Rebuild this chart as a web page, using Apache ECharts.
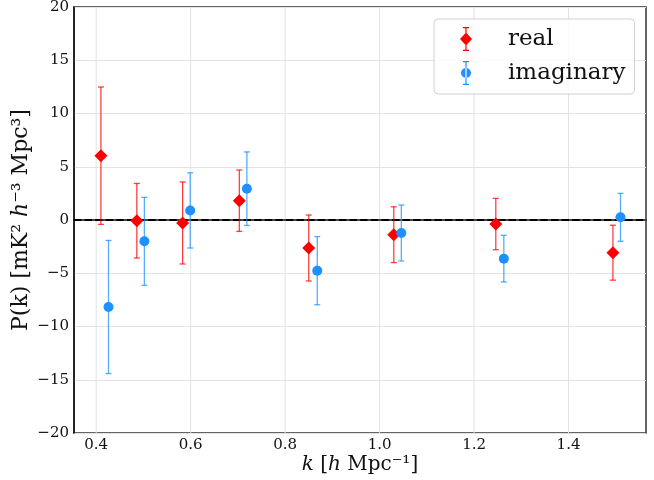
<!DOCTYPE html>
<html>
<head>
<meta charset="utf-8">
<script src="https://cdn.jsdelivr.net/npm/echarts@6/dist/echarts.min.js"></script>
<style>
  html, body { margin: 0; padding: 0; background: #fff; }
  #chart { width: 654px; height: 480px; }
</style>
</head>
<body>
<div id="chart"></div>
<script>
// k positions (real and imaginary are slightly offset from each other)
const kReal = [0.410, 0.486, 0.583, 0.703, 0.850, 1.030, 1.246, 1.494]
const pReal = [6.04, -0.07, -0.28, 1.81, -2.63, -1.38, -0.38, -3.07]
const errReal = [6.45, 3.5, 3.85, 2.88, 3.1, 2.62, 2.41, 2.58]

const kImag = [0.426, 0.502, 0.599, 0.719, 0.868, 1.046, 1.263, 1.510]
const pImag = [-8.17, -2.0, 0.9, 2.94, -4.76, -1.22, -3.63, 0.25]
const errImag = [6.25, 4.13, 3.53, 3.45, 3.2, 2.63, 2.19, 2.25]

const xTicks = [0.4, 0.6, 0.8, 1.0, 1.2, 1.4]
const xRange = [0.353, 1.564]
const zeroLevel = 0

const RED = '#ff0000'
const BLUE = '#1e90ff'
const SERIF = '"DejaVu Serif", serif'

// legend icons: marker with an error bar through it
const BAR = 'M5.4,0 L6.6,0 L6.6,24 L5.4,24 Z M3,0 L9,0 L9,1.2 L3,1.2 Z M3,22.8 L9,22.8 L9,24 L3,24 Z '
const ICON_REAL = 'path://' + BAR + 'M6,5.5 L12,12 L6,18.5 L0,12 Z'
const ICON_IMAG = 'path://' + BAR + 'M1,12 A5,5 0 1,0 11,12 A5,5 0 1,0 1,12 Z'

function errData(k, p, e) {
    return k.map((x, i) => [x, p[i] - e[i], p[i] + e[i]])
}

function errRender(color) {
    return function (params, api) {
        const x = api.value(0)
        const lo = api.coord([x, api.value(1)])
        const hi = api.coord([x, api.value(2)])
        const cap = 3
        const style = { stroke: color, lineWidth: 1.3, opacity: 0.75 }
        return {
            type: 'group',
            children: [
                { type: 'line', shape: { x1: lo[0], y1: lo[1], x2: hi[0], y2: hi[1] }, style },
                { type: 'line', shape: { x1: hi[0] - cap, y1: hi[1], x2: hi[0] + cap, y2: hi[1] }, style },
                { type: 'line', shape: { x1: lo[0] - cap, y1: lo[1], x2: lo[0] + cap, y2: lo[1] }, style }
            ]
        }
    }
}

const chart = echarts.init(document.getElementById('chart'), null, { renderer: 'canvas' })

chart.setOption({
    animation: false,
    backgroundColor: '#fff',
    grid: {
        left: 74, right: 8, top: 7, bottom: 47,
        show: true, borderColor: '#333', borderWidth: 1.5,
        containLabel: false, outerBoundsMode: 'none'
    },
    legend: {
        left: 434, top: 19,
        orient: 'vertical',
        padding: [8, 9, 9, 26],
        itemGap: 10,
        itemWidth: 12, itemHeight: 24,
        borderColor: '#d0d0d0', borderWidth: 1, borderRadius: 4,
        backgroundColor: 'rgba(255,255,255,0.85)',
        textStyle: { fontFamily: SERIF, fontSize: 23, color: '#111', padding: [0, 0, 0, 31] },
        data: [
            { name: 'real', icon: ICON_REAL, itemStyle: { color: RED } },
            { name: 'imaginary', icon: ICON_IMAG, itemStyle: { color: BLUE } }
        ]
    },
    xAxis: {
        type: 'value',
        min: xRange[0], max: xRange[1],
        name: '{i|k} [{i|h} Mpc⁻¹]',
        nameLocation: 'middle',
        nameGap: 22,
        nameMoveOverlap: false,
        nameTextStyle: {
            fontFamily: SERIF, fontSize: 20, color: '#111',
            rich: { i: { fontFamily: SERIF, fontSize: 20, fontStyle: 'italic', color: '#111' } }
        },
        axisLine: { show: true, lineStyle: { color: '#111', width: 1.5 } },
        axisTick: { show: false },
        axisLabel: {
            fontFamily: SERIF, fontSize: 15, color: '#111', margin: 5,
            customValues: xTicks,
            formatter: v => v.toFixed(1)
        },
        splitLine: { show: false }
    },
    yAxis: {
        type: 'value',
        min: -20, max: 20, interval: 5,
        name: 'P(k) [mK² {i|h}⁻³ Mpc³]',
        nameLocation: 'middle',
        nameGap: 42,
        nameMoveOverlap: false,
        nameRotate: 90,
        nameTextStyle: {
            fontFamily: SERIF, fontSize: 22, color: '#111',
            rich: { i: { fontFamily: SERIF, fontSize: 22, fontStyle: 'italic', color: '#111' } }
        },
        axisLine: { show: true, lineStyle: { color: '#111', width: 1.5 } },
        axisTick: { show: false },
        axisLabel: {
            fontFamily: SERIF, fontSize: 15, color: '#111', margin: 5,
            formatter: v => String(v).replace('-', '−')
        },
        splitLine: { show: true, lineStyle: { color: '#e3e3e3', width: 1 } }
    },
    series: [
        {
            // vertical grid lines at the x ticks
            type: 'custom',
            silent: true,
            z: 0,
            data: xTicks.map(v => [v]),
            renderItem: (params, api) => {
                const top = api.coord([api.value(0), 20])
                const bot = api.coord([api.value(0), -20])
                return { type: 'line', shape: { x1: top[0], y1: top[1], x2: bot[0], y2: bot[1] }, style: { stroke: '#e3e3e3', lineWidth: 1 } }
            }
        },
        {
            // dashed zero line
            type: 'custom',
            silent: true,
            z: 2,
            data: [[zeroLevel]],
            renderItem: (params, api) => {
                const a = api.coord([xRange[0], api.value(0)])
                const b = api.coord([xRange[1], api.value(0)])
                return { type: 'line', shape: { x1: a[0], y1: a[1], x2: b[0], y2: b[1] }, style: { stroke: '#000', lineWidth: 2, lineDash: [7.4, 3.2] } }
            }
        },
        {
            type: 'custom',
            name: 'real',
            z: 3,
            data: errData(kReal, pReal, errReal),
            encode: { x: 0, y: [1, 2] },
            renderItem: errRender(RED)
        },
        {
            type: 'custom',
            name: 'imaginary',
            z: 3,
            data: errData(kImag, pImag, errImag),
            encode: { x: 0, y: [1, 2] },
            renderItem: errRender(BLUE)
        },
        {
            type: 'scatter',
            name: 'real',
            z: 5,
            symbol: 'diamond',
            symbolSize: 13,
            itemStyle: { color: RED, opacity: 1 },
            data: kReal.map((k, i) => [k, pReal[i]])
        },
        {
            type: 'scatter',
            name: 'imaginary',
            z: 5,
            symbol: 'circle',
            symbolSize: 10,
            itemStyle: { color: BLUE, opacity: 1 },
            data: kImag.map((k, i) => [k, pImag[i]])
        }
    ]
})
</script>
</body>
</html>
